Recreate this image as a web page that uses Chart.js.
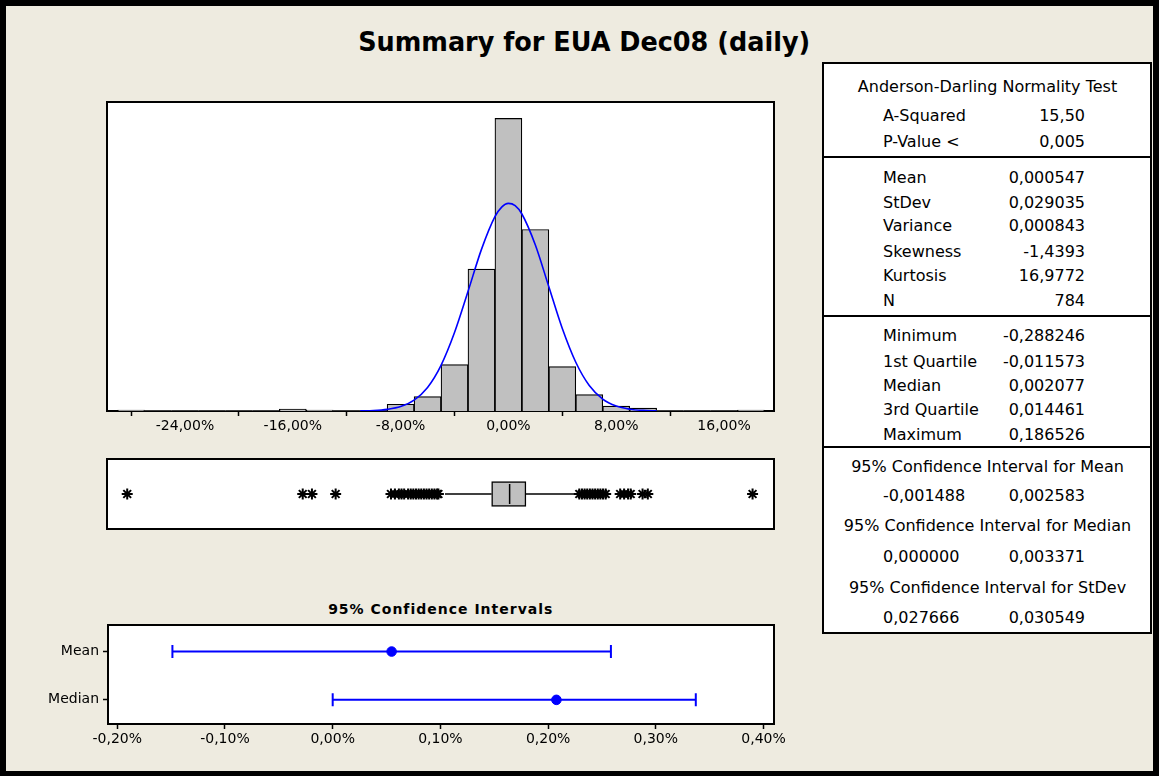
<!DOCTYPE html>
<html><head><meta charset="utf-8">
<script src="https://cdn.jsdelivr.net/npm/chart.js@4.4.1/dist/chart.umd.min.js"></script>
<style>
html,body{margin:0;padding:0;background:#000;width:1159px;height:776px;overflow:hidden;}
#bg{position:absolute;left:6px;top:6px;width:1147px;height:765px;background:#EEEBE0;}
.frame{position:absolute;background:#fff;border:2px solid #000;box-sizing:border-box;}
canvas{position:absolute;}
.txt{position:absolute;font-family:"DejaVu Sans",sans-serif;color:#000;white-space:nowrap;font-size:16px;line-height:16px;}
#title{position:absolute;font-family:"DejaVu Sans",sans-serif;font-weight:bold;font-size:27px;line-height:27px;white-space:nowrap;color:#000;}
#ciTitle{position:absolute;font-family:"DejaVu Sans",sans-serif;font-weight:bold;font-size:14px;line-height:14px;letter-spacing:1px;white-space:nowrap;color:#000;}
.sep{position:absolute;background:#000;height:2px;}
</style></head>
<body>
<div id="bg"></div>
<div id="title">Summary for EUA Dec08 (daily)</div>
<div class="frame" style="left:106px;top:101px;width:669px;height:311px;"></div>
<div class="frame" style="left:106px;top:458px;width:669px;height:72px;"></div>
<div class="frame" style="left:107px;top:624px;width:668px;height:101px;"></div>
<div id="ciTitle">95% Confidence Intervals</div>
<div class="frame" id="table" style="left:822px;top:62px;width:330px;height:572px;"></div>
<canvas id="hist" width="667" height="339" style="left:107px;top:102px;"></canvas>
<canvas id="box" width="667" height="70" style="left:107px;top:459px;"></canvas>
<canvas id="ci" width="769" height="139" style="left:30px;top:615px;"></canvas>
<script>
// ---------- data ----------
const titleText = 'Summary for EUA Dec08 (daily)';
const histBinCenters = [-0.28,-0.26,-0.24,-0.22,-0.20,-0.18,-0.16,-0.14,-0.12,-0.10,-0.08,-0.06,-0.04,-0.02,0.00,0.02,0.04,0.06,0.08,0.10,0.12,0.14,0.16,0.18];
const histCounts     = [1,0,0,0,0,0,2,1,0,0,7,15,48,147,303,188,46,17,5,3,0,0,0,1];
const histTicks = [-0.24,-0.16,-0.08,0,0.08,0.16];
const curveX = [-0.11,-0.10,-0.09,-0.08,-0.07,-0.06,-0.05,-0.04,-0.03,-0.02,-0.01,-0.005,0,0.005,0.01,0.02,0.03,0.04,0.05,0.06,0.07,0.08,0.09,0.10,0.11];
const curveY = [0.2,0.5,1.7,4.6,11.3,24.4,47.3,81.2,123.7,167.4,201.3,211.2,215,212.6,204,171.9,128.6,85.4,50.5,26.4,12.3,5.1,1.9,0.6,0.2];
const boxQuartiles = [-0.011573, 0.002077, 0.014461];
const whiskerEnds = [-0.047, 0.053];
const outliers = [-0.288246,-0.155,-0.148,-0.130,
  -0.088,-0.085,-0.082,-0.080,-0.078,-0.075,-0.073,-0.071,-0.069,-0.067,-0.065,-0.063,-0.061,-0.059,-0.057,-0.055,-0.053,-0.052,
  0.055,0.057,0.059,0.061,0.063,0.065,0.067,0.069,0.071,0.073,0.075,0.086,0.089,0.092,0.094,0.103,0.107,0.186526];
const ciNames = ['Mean','Median'];
const ciEstimates = [0.000547, 0.002077];
const ciLowVals = [-0.001488, 0.000000];
const ciHighVals = [0.002583, 0.003371];
const ciTicks = [-0.002,-0.001,0,0.001,0.002,0.003,0.004];
const adHeader = 'Anderson-Darling Normality Test';
const sec1Labels = ['A-Squared','P-Value <'];
const sec1Values = ['15,50','0,005'];
const sec2Labels = ['Mean','StDev','Variance','Skewness','Kurtosis','N'];
const sec2Values = ['0,000547','0,029035','0,000843','-1,4393','16,9772','784'];
const sec3Labels = ['Minimum','1st Quartile','Median','3rd Quartile','Maximum'];
const sec3Values = ['-0,288246','-0,011573','0,002077','0,014461','0,186526'];
const ciHeaders = ['95% Confidence Interval for Mean','95% Confidence Interval for Median','95% Confidence Interval for StDev'];
const ciLowText = ['-0,001488','0,000000','0,027666'];
const ciHighText = ['0,002583','0,003371','0,030549'];

// ---------- titles ----------
(function(){
  const t = document.getElementById('title');
  const c = document.createElement('canvas').getContext('2d');
  c.font = 'bold 27px "DejaVu Sans"';
  const w = c.measureText(titleText).width;
  const target = 452;
  t.style.left = (584 - w/2) + 'px';
  t.style.top = '28px';
  t.style.transformOrigin = (w/2) + 'px 50%';
  t.style.transform = 'scaleX(' + (target/w) + ')';
  const ct = document.getElementById('ciTitle');
  c.font = 'bold 14px "DejaVu Sans"';
  const w2 = c.measureText(ct.textContent).width + ct.textContent.length;
  ct.style.left = (440.5 - w2/2) + 'px';
  ct.style.top = '602px';
})();

// ---------- table ----------
(function(){
  const body = document.body;
  function put(text, x, baseline, align){
    const d = document.createElement('div');
    d.className = 'txt';
    d.textContent = text;
    d.style.top = (baseline - 13.5) + 'px';
    d.style.left = x + 'px';
    if (align === 'right') d.style.transform = 'translateX(-100%)';
    if (align === 'center') d.style.transform = 'translateX(-50%)';
    body.appendChild(d);
  }
  const LX = 883, RX = 1085, CX = 987.5, off = 6.3;
  put(adHeader, CX, 85.9 + off, 'center');
  const s1 = [115.5, 141.4];
  sec1Labels.forEach((l,i)=>{ put(l, LX, s1[i]+off); put(sec1Values[i], RX, s1[i]+off, 'right'); });
  const s2 = [177.6, 201.7, 225.4, 251.3, 275.3, 299.7];
  sec2Labels.forEach((l,i)=>{ put(l, LX, s2[i]+off); put(sec2Values[i], RX, s2[i]+off, 'right'); });
  const s3 = [335.6, 361.5, 385.6, 409.2, 433.7];
  sec3Labels.forEach((l,i)=>{ put(l, LX, s3[i]+off); put(sec3Values[i], RX, s3[i]+off, 'right'); });
  const hy = [465.8, 525.4, 587.2], vy = [495.4, 555.7, 616.8];
  ciHeaders.forEach((h,i)=>{ put(h, CX, hy[i]+off, 'center'); put(ciLowText[i], LX, vy[i]+off); put(ciHighText[i], RX, vy[i]+off, 'right'); });
  [156, 315, 445.5].forEach(y=>{
    const s = document.createElement('div'); s.className='sep';
    s.style.left='822px'; s.style.width='330px'; s.style.top=y+'px'; body.appendChild(s);
  });
})();

// ---------- charts ----------
Chart.defaults.font.family = '"DejaVu Sans", sans-serif';
Chart.defaults.color = '#000';
const pctFmt = v => (v*100).toFixed(2).replace('.', ',') + '%';
const noPlug = {legend:{display:false}, tooltip:{enabled:false}};
const HMIN = -0.2979, HMAX = 0.1971;
const TICK_FONT = {size:14};

new Chart(document.getElementById('hist'), {
  type: 'bar',
  data: { datasets: [
    { type:'line', data: curveX.map((x,i)=>({x:x, y:curveY[i]})), borderColor:'#0000FF', borderWidth:1.6,
      pointRadius:0, cubicInterpolationMode:'monotone', order:0 },
    { type:'bar', data: histBinCenters.map((x,i)=>({x:x, y:histCounts[i]})), backgroundColor:'#C0C0C0',
      borderColor:'#000', borderWidth: c => (c.raw && c.raw.y > 0 ? 1.2 : 0),
      barPercentage:1, categoryPercentage:1, order:1 }
  ]},
  options: {
    responsive:false, animation:false, events:[], layout:{padding:0}, plugins:noPlug,
    scales: {
      x: { type:'linear', min:HMIN, max:HMAX, offset:false,
        afterBuildTicks: s => { s.ticks = histTicks.map(v=>({value:v})); },
        afterFit: s => { s.height = 30; },
        ticks: { callback: v => pctFmt(v), font:TICK_FONT, padding:2, maxRotation:0, autoSkip:false },
        grid: { drawOnChartArea:false, drawTicks:true, tickLength:5, tickColor:'#000', tickWidth:1.5 },
        border: { display:true, color:'#000', width:2 } },
      y: { display:false, min:0, max:320 }
    }
  }
});

new Chart(document.getElementById('box'), {
  type: 'bar',
  data: { datasets: [
    { type:'line', data: outliers.map(v=>({x:v, y:1})), showLine:false, pointStyle:'star', pointRadius:5.5,
      pointBorderColor:'#000', pointBorderWidth:2, order:0 },
    { type:'line', data:[{x:boxQuartiles[1], y:0.64},{x:boxQuartiles[1], y:1.36}], borderColor:'#000', borderWidth:1.5, pointRadius:0, order:1 },
    { type:'line', data:[{x:whiskerEnds[0], y:1},{x:boxQuartiles[0], y:1}], borderColor:'#000', borderWidth:1.5, pointRadius:0, order:2 },
    { type:'line', data:[{x:boxQuartiles[2], y:1},{x:whiskerEnds[1], y:1}], borderColor:'#000', borderWidth:1.5, pointRadius:0, order:2 },
    { type:'bar', data:[{x:[boxQuartiles[0], boxQuartiles[2]], y:1}], backgroundColor:'#C0C0C0', borderColor:'#000',
      borderWidth:1.5, borderSkipped:false, barThickness:25, order:3 }
  ]},
  options: {
    indexAxis:'y', responsive:false, animation:false, events:[], layout:{padding:0}, plugins:noPlug,
    scales: {
      x: { type:'linear', display:false, min:HMIN, max:HMAX, offset:false },
      y: { type:'linear', display:false, min:0, max:2, offset:false }
    }
  }
});

new Chart(document.getElementById('ci'), {
  type: 'line',
  data: { datasets: [
    { data: ciNames.map((n,i)=>({x:ciEstimates[i], y:n})), showLine:false, pointStyle:'circle', pointRadius:4.8,
      pointBackgroundColor:'#0000FF', pointBorderColor:'#0000FF', pointBorderWidth:1, order:0 }
  ].concat(ciNames.map((n,i)=>({
      data:[{x:ciLowVals[i], y:n},{x:ciHighVals[i], y:n}], borderColor:'#0000FF', borderWidth:2,
      pointStyle:'line', pointRotation:90, pointRadius:6.5, pointBorderWidth:2, pointBorderColor:'#0000FF', order:1 })))
  },
  options: {
    responsive:false, animation:false, events:[], layout:{padding:{top:10, right:25, left:0, bottom:0}}, plugins:noPlug,
    scales: {
      x: { type:'linear', min:-0.002086, max:0.004097,
        afterBuildTicks: s => { s.ticks = ciTicks.map(v=>({value:v})); },
        afterFit: s => { s.height = 30; },
        ticks: { callback: v => pctFmt(v), font:TICK_FONT, padding:2, maxRotation:0, autoSkip:false },
        grid: { drawOnChartArea:false, drawTicks:true, tickLength:5, tickColor:'#000', tickWidth:1.5 },
        border: { display:true, color:'#000', width:2 } },
      y: { type:'category', labels:ciNames, offset:true,
        afterFit: s => { s.width = 78; },
        ticks: { font:TICK_FONT, padding:4 },
        grid: { drawOnChartArea:false, drawTicks:true, tickLength:5, tickColor:'#000', tickWidth:1.5 },
        border: { display:true, color:'#000', width:2 } }
    }
  }
});
</script>
</body></html>
